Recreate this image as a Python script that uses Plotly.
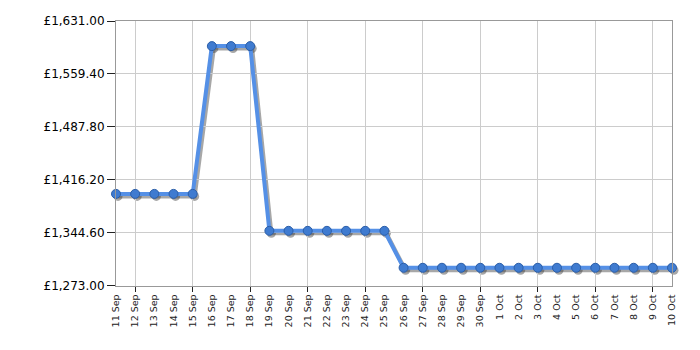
import plotly.graph_objects as go

dates = ["11 Sep", "12 Sep", "13 Sep", "14 Sep", "15 Sep", "16 Sep", "17 Sep", "18 Sep",
         "19 Sep", "20 Sep", "21 Sep", "22 Sep", "23 Sep", "24 Sep", "25 Sep", "26 Sep",
         "27 Sep", "28 Sep", "29 Sep", "30 Sep", "1 Oct", "2 Oct", "3 Oct", "4 Oct",
         "5 Oct", "6 Oct", "7 Oct", "8 Oct", "9 Oct", "10 Oct"]
prices = [1397, 1397, 1397, 1397, 1397, 1597, 1597, 1597,
          1347, 1347, 1347, 1347, 1347, 1347, 1347, 1297,
          1297, 1297, 1297, 1297, 1297, 1297, 1297, 1297,
          1297, 1297, 1297, 1297, 1297, 1297]
y_ticks = [1273.00, 1344.60, 1416.20, 1487.80, 1559.40, 1631.00]
y_tick_text = ["£{:,.2f}".format(v) for v in y_ticks]
grid_every = 3  # vertical grid/tick every 3 days starting at 12 Sep

W, H = 700, 350
SX, SY = 2.0, 2.5  # shadow offset in px
L, R, T, B = 116, 28 - SX, 21, 64 - SY
xi = list(range(len(dates)))
grid_vals = xi[1::grid_every]

pw = W - L - R
ph = H - T - B
dx = SX / pw
dy = SY / ph
xr = [0, len(dates) - 1]
yr = [y_ticks[0], y_ticks[-1]]

fig = go.Figure()

# shadow trace on a hidden, slightly shifted axis pair (drawn first / underneath)
fig.add_trace(go.Scatter(
    x=xi, y=prices, mode="lines+markers", xaxis="x", yaxis="y",
    line=dict(color="rgba(60,60,60,0.45)", width=4),
    marker=dict(size=9, color="rgba(60,60,60,0.45)"),
    hoverinfo="skip", showlegend=False, cliponaxis=False,
))
# invisible trace so the label-only axis is rendered
fig.add_trace(go.Scatter(
    x=xi, y=prices, mode="markers", xaxis="x3", yaxis="y2",
    marker=dict(size=1, opacity=0), hoverinfo="skip", showlegend=False,
))
# main trace on the visible axes
fig.add_trace(go.Scatter(
    x=xi, y=prices, mode="lines+markers", xaxis="x2", yaxis="y2",
    line=dict(color="#5590e6", width=4),
    marker=dict(size=9, color="#3f7bd0", line=dict(color="#2b5ea8", width=1)),
    showlegend=False, cliponaxis=False,
))

fig.update_layout(
    width=W, height=H,
    margin=dict(l=L, r=R, t=T, b=B),
    paper_bgcolor="white", plot_bgcolor="rgba(0,0,0,0)",
    font=dict(family="DejaVu Sans, Verdana, sans-serif", color="black"),
    xaxis=dict(range=xr, visible=False, domain=[dx, 1], anchor="y"),
    yaxis=dict(range=yr, visible=False, domain=[0, 1 - dy], anchor="x"),
    # visible x axis: ticks + vertical grid every 3 days, no labels
    xaxis2=dict(
        range=xr, anchor="y2",
        tickmode="array", tickvals=grid_vals, showticklabels=False,
        ticks="outside", ticklen=5, tickcolor="#222",
        showgrid=True, gridcolor="#cccccc", gridwidth=1, zeroline=False,
        showline=True, linecolor="#999", linewidth=1, mirror=True,
        domain=[0, 1 - dx],
    ),
    # label-only x axis: one label per day
    xaxis3=dict(
        range=xr, anchor="y2", overlaying="x2", side="bottom",
        tickmode="array", tickvals=xi, ticktext=dates, tickangle=-90,
        tickfont=dict(size=9.5, color="#222"),
        ticks="", ticklabelstandoff=6, showgrid=False, zeroline=False,
        showline=False,
        domain=[0, 1 - dx],
    ),
    yaxis2=dict(
        range=yr, anchor="x2",
        tickvals=y_ticks, ticktext=y_tick_text,
        tickfont=dict(size=12, color="black"),
        ticks="outside", ticklen=8, tickcolor="#222",
        showgrid=True, gridcolor="#cccccc", gridwidth=1, zeroline=False,
        showline=True, linecolor="#999", linewidth=1, mirror=True,
        domain=[dy, 1],
    ),
)

fig.write_html("out.html")
